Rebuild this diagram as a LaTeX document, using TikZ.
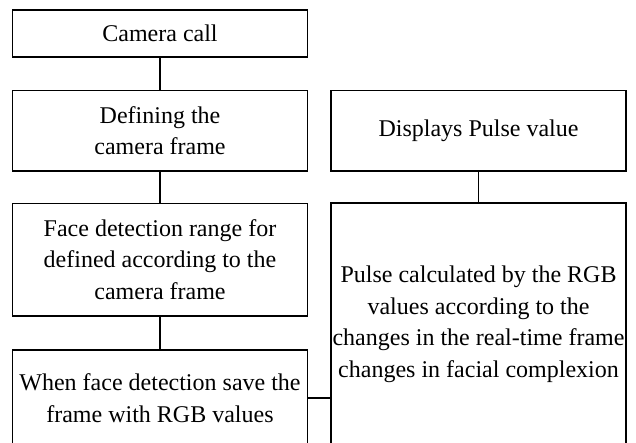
\documentclass[tikz,border=0pt]{standalone}
\usepackage{fontspec}
\setmainfont{Liberation Serif}
\begin{document}
\begin{tikzpicture}[x=1pt,y=-1pt,
    box/.style={draw, line width=1.6pt, inner sep=0pt, minimum width=295pt, align=center,
        font=\fontsize{24}{31.5}\selectfont},
    link/.style={line width=1.6pt}]
    \useasboundingbox (0,0) rectangle (636,442);
    \clip (0,0) rectangle (636,442);

    \node [box, minimum height=47pt] (camera) at (160,33.5) {Camera call};
    \node [box, minimum height=80.5pt] (define) at (160,130.75) {Defining the\\camera frame};
    \node [box, minimum height=112.4pt] (face) at (160,259.5) {Face detection range for\\defined according to the\\camera frame};
    \node [box, minimum height=96pt] (save) at (160,398) {When face detection save the\\frame with RGB values};

    \node [box, minimum height=80.5pt] (display) at (478.5,130.75) {Displays Pulse value};
    \node [box, minimum height=243pt] (pulse) at (478.5,324.5) {Pulse calculated by the RGB\\values according to the\\changes in the real-time frame\\changes in facial complexion};

    \draw [link] (camera) -- (define);
    \draw [link] (define) -- (face);
    \draw [link] (face) -- (save);
    \draw [link] (save.east) -- (save.east -| pulse.west);
    \draw [link] (pulse) -- (display);
\end{tikzpicture}
\end{document}
